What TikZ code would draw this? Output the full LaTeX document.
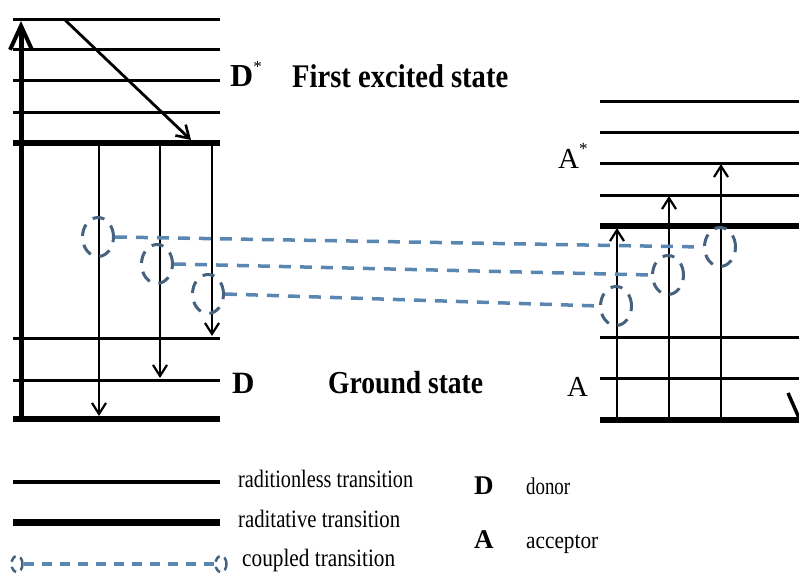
\documentclass[tikz,border=0pt]{standalone}
\usepackage{fontspec}
\setmainfont{Liberation Serif}
\usetikzlibrary{arrows.meta,shapes.geometric}
\definecolor{dashc}{HTML}{5A86B2}
\definecolor{cplc}{HTML}{46627F}
\newcommand\fitw[2]{\resizebox{#1}{\height}{#2}}
\begin{document}
\begin{tikzpicture}[x=1pt,y=-1pt,
  lvl/.style={line width=3pt},
  lvlthick/.style={line width=6.5pt},
  tr/.style={line width=2.2pt,-{Straight Barb[length=11pt,width=14pt,line width=2.2pt]}},
  cpl/.style={draw=cplc, dash pattern=on 12pt off 9pt, line width=3pt, ellipse, minimum width=31pt, minimum height=39pt, inner sep=0pt},
  cplsmall/.style={draw=cplc, dash pattern=on 7pt off 5pt, line width=2.5pt, ellipse, minimum width=11pt, minimum height=16pt, inner sep=0pt},
  cline/.style={draw=dashc, dash pattern=on 12pt off 9pt, line width=3.5pt},
  lbl/.style={anchor=base west, inner sep=0pt},
]
\useasboundingbox (0,0) rectangle (799,575);

% ---------- donor levels ----------
\foreach \y in {20,50,81,112} \draw[lvl] (13,\y) -- (220,\y);
\draw[lvlthick] (13,143) -- (220,143);
\foreach \y in {338,380} \draw[lvl] (13,\y) -- (220,\y);
\draw[lvlthick] (13,419) -- (220,419);

\coordinate (dbot) at (21,416);
\coordinate (dtop) at (21,21);
\draw[line width=5pt,-{Straight Barb[length=24pt,width=22pt,line width=4pt]}] (dbot) -- (dtop);
\coordinate (diagA) at (65,20);
\coordinate (diagB) at (191,140);
\draw[line width=2.8pt,-{Straight Barb[length=12pt,width=15pt,line width=2.6pt]}] (diagA) -- (diagB);

\coordinate (d1a) at (99,146);  \coordinate (d1b) at (99,416);
\coordinate (d2a) at (160,146); \coordinate (d2b) at (160,378);
\coordinate (d3a) at (212,146); \coordinate (d3b) at (212,336);
\draw[tr] (d1a) -- (d1b);
\draw[tr] (d2a) -- (d2b);
\draw[tr] (d3a) -- (d3b);

% ---------- acceptor levels ----------
\foreach \y in {102,132,163,195} \draw[lvl] (600,\y) -- (805,\y);
\draw[lvlthick] (600,226) -- (805,226);
\foreach \y in {337,378} \draw[lvl] (600,\y) -- (805,\y);
\draw[lvlthick] (600,420) -- (805,420);

\coordinate (a1a) at (617,418); \coordinate (a1b) at (617,228);
\coordinate (a2a) at (669,418); \coordinate (a2b) at (669,196);
\coordinate (a3a) at (721,418); \coordinate (a3b) at (721,164);
\draw[tr] (a1a) -- (a1b);
\draw[tr] (a2a) -- (a2b);
\draw[tr] (a3a) -- (a3b);
\coordinate (rdA) at (788,393);
\coordinate (rdB) at (803,427);
\draw[line width=3.5pt] (rdA) -- (rdB);

% ---------- coupled transitions ----------
\node[cpl] (e1) at (98,237) {};
\node[cpl] (e2) at (157,264) {};
\node[cpl] (e3) at (208,294) {};
\node[cpl] (f1) at (720,247) {};
\node[cpl] (f2) at (668,275) {};
\node[cpl] (f3) at (616,306) {};
\draw[cline] (e1.east) -- (f1.west);
\draw[cline] (e2.east) -- (f2.west);
\draw[cline] (e3.east) -- (f3.west);

% ---------- labels ----------
\node[lbl] (dstar) at (230,87) {\fontsize{32}{32}\selectfont\bfseries D\raisebox{0.45em}{\fontsize{17}{17}\selectfont\mdseries *}};
\node[lbl] (fes) at (292,88) {\fitw{216pt}{\fontsize{33}{33}\selectfont\bfseries First excited state}};
\node[lbl] (dlab) at (232,393) {\fontsize{31}{31}\selectfont\bfseries D};
\node[lbl] (gs) at (328,393) {\fitw{155pt}{\fontsize{32}{32}\selectfont\bfseries Ground state}};
\node[lbl] (astar) at (558,168) {\fontsize{29}{29}\selectfont A\raisebox{0.45em}{\fontsize{17}{17}\selectfont *}};
\node[lbl] (alab) at (567,396) {\fontsize{29}{29}\selectfont A};

% ---------- legend ----------
\coordinate (l1a) at (13,482); \coordinate (l1b) at (220,482);
\draw[line width=3.5pt] (l1a) -- (l1b);
\coordinate (l2a) at (13,522); \coordinate (l2b) at (220,522);
\draw[line width=7pt] (l2a) -- (l2b);
\node[cplsmall] (g1) at (17,564) {};
\node[cplsmall] (g2) at (221,564) {};
\draw[draw=dashc, dash pattern=on 10pt off 8pt, line width=3.5pt] (g1.east) -- (g2.west);

\node[lbl] (t1) at (238,487) {\fitw{175pt}{\fontsize{25}{25}\selectfont raditionless transition}};
\node[lbl] (t2) at (238,527) {\fitw{162pt}{\fontsize{25}{25}\selectfont raditative transition}};
\node[lbl] (t3) at (242,566) {\fitw{153pt}{\fontsize{25}{25}\selectfont coupled transition}};
\node[lbl] (ld) at (474,494) {\fontsize{27}{27}\selectfont\bfseries D};
\node[lbl] (ldt) at (526,494) {\fitw{44pt}{\fontsize{24}{24}\selectfont donor}};
\node[lbl] (la) at (474,548) {\fontsize{27}{27}\selectfont\bfseries A};
\node[lbl] (lat) at (526,548) {\fitw{72pt}{\fontsize{24}{24}\selectfont acceptor}};
\end{tikzpicture}
\end{document}
